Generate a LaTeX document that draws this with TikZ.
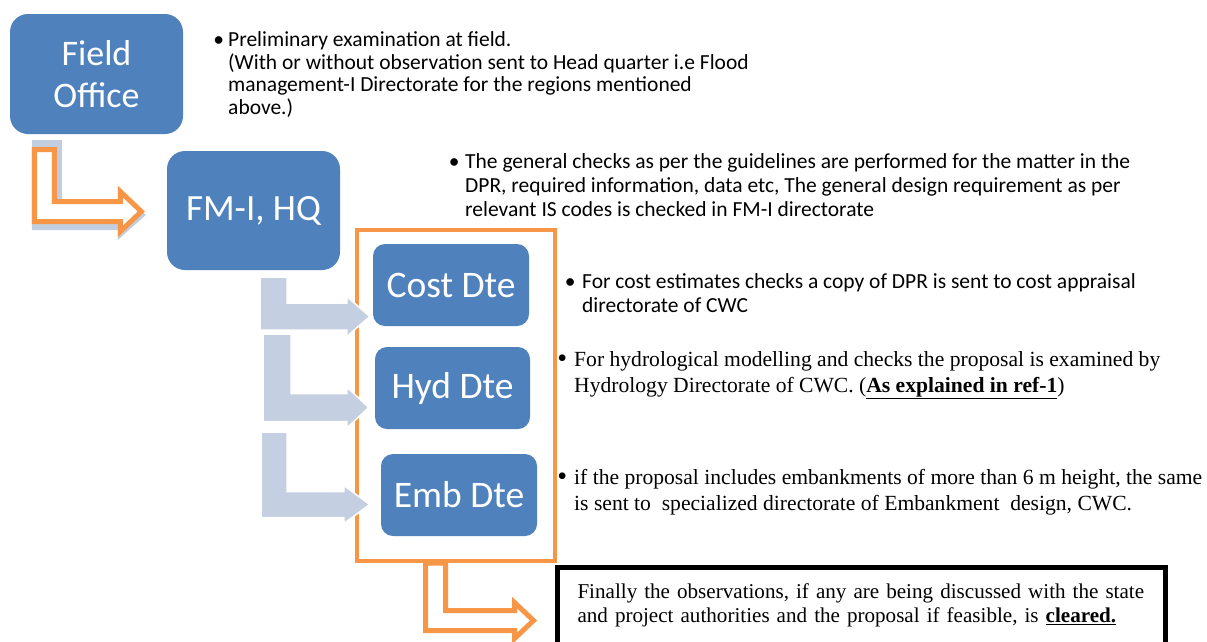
\documentclass[tikz,border=0pt]{standalone}
\usepackage{fontspec}
\setmainfont{Carlito}
\newfontfamily\timesfont{Liberation Serif}
\usetikzlibrary{calc}
\definecolor{boxblue}{HTML}{4F81BD}
\definecolor{flowOrange}{HTML}{F79646}
\definecolor{flowGrey}{HTML}{C4CFE2}
\definecolor{shadowGrey}{HTML}{C3CDE0}
% bent block arrow: style, stem top, tip, stem half width, head half width, head length
\newcommand{\bentarrow}[6]{%
  \path[#1] let \p1=#2, \p2=#3 in
    (\x1-#4,\y1) -- (\x1+#4,\y1) -- (\x1+#4,\y2+#4) -- (\x2-#6,\y2+#4) -- (\x2-#6,\y2+#5)
    -- (\x2,\y2) -- (\x2-#6,\y2-#5) -- (\x2-#6,\y2-#4) -- (\x1-#4,\y2-#4) -- cycle;}
\newcommand{\bigbullet}{\llap{\raisebox{-1.5pt}{\fontsize{28}{28}\selectfont\textbullet}\hspace{7pt}}}

\begin{document}
\begin{tikzpicture}[%
        x=1pt, y=-1pt,
        office/.style={ rounded corners=18pt, fill=boxblue, text=white, align=center, minimum width=173pt, minimum height=120pt, font=\fontsize{36}{42}\selectfont },%
        dte/.style={ rounded corners=12pt, fill=boxblue, text=white, minimum width=156pt, minimum height=82pt, font=\fontsize{37.5}{42}\selectfont },%
        note/.style={ anchor=base west, align=left, inner sep=0pt, font=\fontsize{21.5}{22.5}\selectfont },%
        remark/.style={ anchor=base west, align=left, inner sep=0pt, font=\timesfont\fontsize{21.6}{26}\selectfont },%
        group/.style={ draw=flowOrange, line width=4pt, minimum width=198pt, minimum height=331pt },%
        final/.style={ draw=black, line width=5pt, text width=568pt, inner xsep=20pt, inner ysep=16pt, align=left, font=\timesfont\fontsize{21.1}{24}\selectfont },%
        hollow/.style={ draw=flowOrange, line width=5pt, fill=white, line join=miter },%
        solid/.style={ fill=flowGrey, draw=white, line width=1.5pt }%
      ]
      \useasboundingbox (0,0) rectangle (1207,641);
      \clip (0,0) rectangle (1207,641);
      \node (field) at (96.5,74) [office]{Field\\Office};
      \node (fm) at (253.5,210.5) [office, minimum height=119pt, font=\fontsize{37}{42}\selectfont]{FM-I, HQ};
      \node (grp) at (456,395.5) [group]{};
      \node (cost) at (451,285) [dte]{Cost Dte};
      \node (hyd) at (452.5,388) [dte, minimum width=155pt]{Hyd Dte};
      \node (emb) at (459,495) [dte]{Emb Dte};
      \node (final) at (555,565) [final, anchor=north west]{Finally the observations, if any are being discussed with the state\\and project authorities and the proposal if feasible, is \underline{\textbf{cleared.}}\rule[-28pt]{0pt}{28pt}};

      \bentarrow{fill=shadowGrey}{($(field.south west)+(37,6)$)}{($(fm.west)+(-21,4.5)$)}{15pt}{25pt}{28pt}
      \bentarrow{hollow}{($(field.south west)+(34.5,15.5)$)}{($(fm.west)+(-25.5,1)$)}{10pt}{20pt}{21pt}
      \bentarrow{solid}{($(fm.south)+(20,7)$)}{($(cost.west)+(-3,31.5)$)}{13.5pt}{20pt}{23pt}
      \bentarrow{solid}{($(fm.south)+(23.5,64)$)}{($(hyd.west)+(-6,19.5)$)}{14pt}{20.5pt}{22pt}
      \bentarrow{solid}{($(fm.south)+(20.5,162)$)}{($(emb.west)+(-11,9.5)$)}{13pt}{19pt}{26pt}
      \bentarrow{hollow}{($(grp.south west)+(80.5,0)$)}{($(final.north west)+(-21.5,55.5)$)}{10pt}{18pt}{19pt}

      % base of a multi-line note is the baseline of its last line
      \node (prelim) at (228,114) [note]{\llap{\textbullet\hspace{4pt}}Preliminary examination at field.\\(With or without observation sent to Head quarter i.e Flood\\management-I Directorate for the regions mentioned\\above.)};
      \node (checks) at (465,216) [note, font=\fontsize{21.5}{24}\selectfont]{\llap{\textbullet\hspace{5.5pt}}The general checks as per the guidelines are performed for the matter in the\\DPR, required information, data etc, The general design requirement as per\\relevant IS codes is checked in FM-I directorate};
      \node (costnote) at (582,312) [note, font=\fontsize{21.5}{24}\selectfont]{\llap{\textbullet\hspace{6.5pt}}For cost estimates checks a copy of DPR is sent to cost appraisal\\directorate of CWC};
      \node (hydnote) at (574,392) [remark]{\bigbullet For hydrological modelling and checks the proposal is examined by\\Hydrology Directorate of CWC. (\underline{\textbf{As explained in ref-1}})};
      \node (embnote) at (574,510) [remark]{\bigbullet if the proposal includes embankments of more than 6 m height, the same\\is sent to\ \ specialized directorate of Embankment\ \ design, CWC.};
    \end{tikzpicture}
\end{document}
